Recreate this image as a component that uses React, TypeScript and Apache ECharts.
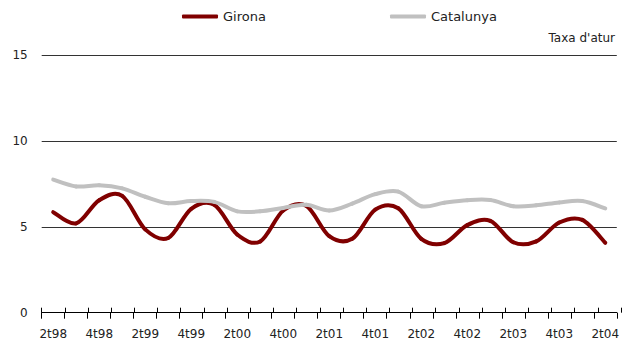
import React, { useEffect, useRef } from "react";
import * as echarts from "echarts";

const categories = [
  "2t98", "3t98", "4t98", "1t99", "2t99", "3t99", "4t99", "1t00",
  "2t00", "3t00", "4t00", "1t01", "2t01", "3t01", "4t01", "1t02",
  "2t02", "3t02", "4t02", "1t03", "2t03", "3t03", "4t03", "1t04", "2t04",
];

const gironaValues = [
  5.85, 5.2, 6.55, 6.8, 4.85, 4.35, 6.05, 6.28,
  4.55, 4.15, 5.95, 6.22, 4.45, 4.3, 6.0, 6.08,
  4.3, 4.05, 5.1, 5.35, 4.1, 4.15, 5.25, 5.4, 4.07,
];

const catalunyaValues = [
  7.75, 7.35, 7.42, 7.24, 6.75, 6.37, 6.5, 6.45,
  5.9, 5.9, 6.1, 6.28, 5.95, 6.35, 6.9, 7.05,
  6.2, 6.4, 6.55, 6.56, 6.2, 6.25, 6.42, 6.5, 6.07,
];

const yTicks = [0, 5, 10, 15];
const unitLabel = "Taxa d'atur";
const seriesNames = ["Girona", "Catalunya"];
const seriesColors = ["#800000", "#c0c0c0"];

const FONT = "DejaVu Sans";

function splineSeries(name: string, values: number[], color: string) {
  return {
    name,
    type: "custom",
    xAxisIndex: 0,
    yAxisIndex: 0,
    data: values.map((v, i) => [i, v]),
    itemStyle: { color },
    renderItem: (params: any, api: any) => {
      const i = params.dataIndex;
      if (i >= values.length - 1) return null;
      const at = (k: number) => {
        const kk = Math.max(0, Math.min(values.length - 1, k));
        return api.coord([kk, values[kk]]);
      };
      const p0 = at(i - 1);
      const p1 = at(i);
      const p2 = at(i + 1);
      const p3 = at(i + 2);
      const t = 1 / 6;
      return {
        type: "bezierCurve",
        shape: {
          x1: p1[0],
          y1: p1[1],
          x2: p2[0],
          y2: p2[1],
          cpx1: p1[0] + (p2[0] - p0[0]) * t,
          cpy1: p1[1] + (p2[1] - p0[1]) * t,
          cpx2: p2[0] - (p3[0] - p1[0]) * t,
          cpy2: p2[1] - (p3[1] - p1[1]) * t,
        },
        style: {
          stroke: color,
          fill: "none",
          lineWidth: 4,
          lineCap: "round",
        },
      };
    },
  };
}

export default function App() {
  const ref = useRef<HTMLDivElement>(null);

  useEffect(() => {
    if (!ref.current) return;
    const chart = echarts.init(ref.current, null, { renderer: "svg" });
    const gridBox = { left: 41.7, right: 1, top: 55, bottom: 32.3 };
    const legendCommon = {
      top: 10,
      padding: 0,
      icon: "roundRect",
      itemWidth: 36,
      itemHeight: 4,
      itemGap: 0,
      textStyle: { fontFamily: FONT, fontSize: 13, color: "#222" },
    };
    chart.setOption({
      animation: false,
      backgroundColor: "#ffffff",
      title: {
        text: unitLabel,
        right: 7,
        top: 32,
        padding: 0,
        textStyle: { fontFamily: FONT, fontSize: 12, fontWeight: "normal", color: "#222" },
      },
      legend: [
        { ...legendCommon, data: [seriesNames[0]], left: 182 },
        { ...legendCommon, data: [seriesNames[1]], left: 390 },
      ],
      grid: [{ ...gridBox }, { ...gridBox }],
      xAxis: [
        {
          type: "category",
          gridIndex: 0,
          data: categories,
          boundaryGap: true,
          axisLine: { lineStyle: { color: "#000", width: 1 } },
          axisTick: { show: true, interval: 0, length: 6, lineStyle: { color: "#000" } },
          axisLabel: {
            interval: 1,
            margin: 15,
            fontFamily: FONT,
            fontSize: 12,
            color: "#222",
          },
          splitLine: { show: false },
        },
        {
          type: "category",
          gridIndex: 1,
          data: categories,
          boundaryGap: true,
          axisLine: { show: false },
          axisTick: { show: true, inside: true, interval: 0, length: 5, lineStyle: { color: "#000" } },
          axisLabel: { show: false },
          splitLine: { show: false },
        },
      ],
      yAxis: [
        {
          type: "value",
          gridIndex: 0,
          min: yTicks[0],
          max: yTicks[yTicks.length - 1],
          interval: 5,
          axisLine: { show: false },
          axisTick: { show: false },
          axisLabel: {
            margin: 14,
            fontFamily: FONT,
            fontSize: 12,
            color: "#222",
          },
          splitLine: { show: true, lineStyle: { color: "#333", width: 1 } },
        },
        {
          type: "value",
          gridIndex: 1,
          min: yTicks[0],
          max: yTicks[yTicks.length - 1],
          interval: 5,
          show: false,
        },
      ],
      series: [
        splineSeries(seriesNames[0], gironaValues, seriesColors[0]),
        splineSeries(seriesNames[1], catalunyaValues, seriesColors[1]),
      ],
    });
    return () => chart.dispose();
  }, []);

  return <div ref={ref} style={{ width: 622, height: 345, position: "absolute", left: 0, top: 0 }} />;
}
